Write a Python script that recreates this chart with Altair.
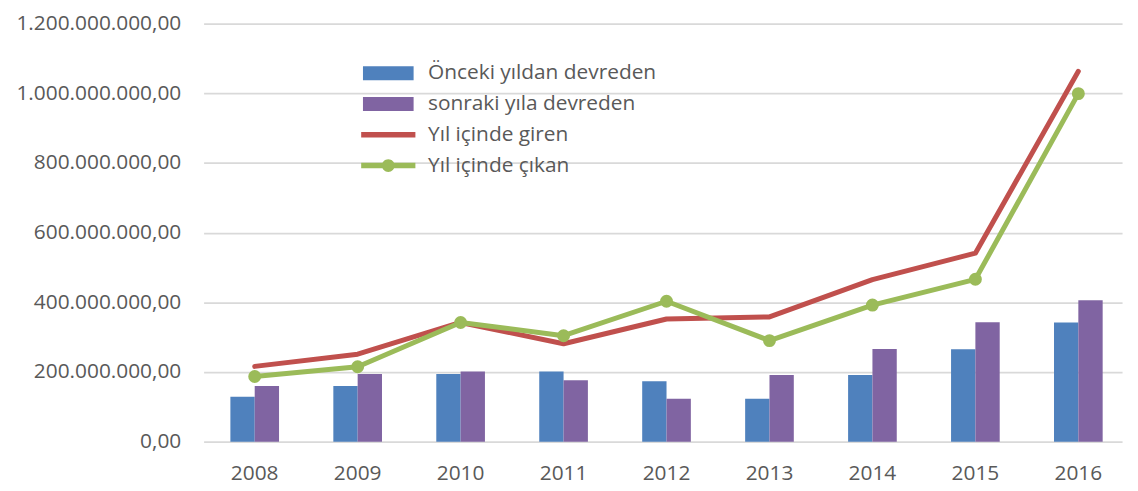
import altair as alt
import pandas as pd

years = ["2008", "2009", "2010", "2011", "2012", "2013", "2014", "2015", "2016"]
onceki = [129e6, 160e6, 194e6, 201e6, 173e6, 123e6, 191e6, 265e6, 342e6]
sonraki = [160e6, 194e6, 201e6, 176e6, 123e6, 191e6, 266e6, 343e6, 406e6]
giren = [216e6, 251e6, 342e6, 281e6, 352e6, 358e6, 465e6, 541e6, 1063e6]
cikan = [187e6, 215e6, 342e6, 304e6, 403e6, 290e6, 392e6, 466e6, 999e6]

series_names = ["Önceki yıldan devreden", "sonraki yıla devreden",
                "Yıl içinde giren", "Yıl içinde çıkan"]
colors = ["#4F81BD", "#8064A2", "#C0504D", "#9BBB59"]
y_ticks = [0, 2e8, 4e8, 6e8, 8e8, 1e9, 1.2e9]

# legend symbol shapes (unit coords scaled by sqrt(size)/2)
rect_path = "M-3.643,-1H3.643V1H-3.643Z"
line_path = "M-3.9,-0.4H3.9V0.4H-3.9Z"
circle_line_path = line_path + "M-0.93,0A0.93,0.93 0 1,1 0.93,0A0.93,0.93 0 1,1 -0.93,0Z"
shape_paths = [rect_path, rect_path, line_path, circle_line_path]

rows = []
for name, vals in zip(series_names, [onceki, sonraki, giren, cikan]):
    for yr, v in zip(years, vals):
        rows.append({"year": yr, "series": name, "value": v})
df = pd.DataFrame(rows)

FONT = "Open Sans"
TXT = "#595959"

x = alt.X("year:N", sort=years,
          scale=alt.Scale(paddingInner=0.5274, paddingOuter=0.2242, align=0.58),
          axis=alt.Axis(title=None, labelAngle=0, ticks=False, domain=False,
                        labelFont=FONT, labelFontSize=21, labelColor=TXT,
                        labelPadding=21, grid=False))
label_expr = ("replace(replace(replace(format(datum.value, ',.2f'), regexp(',', 'g'), '#'),"
              " regexp('[.]', 'g'), ','), regexp('#', 'g'), '.')")
y = alt.Y("value:Q",
          scale=alt.Scale(domain=[0, 1.2e9], nice=False, zero=True),
          axis=alt.Axis(title=None, values=y_ticks, labelExpr=label_expr,
                        grid=True, gridColor="#D9D9D9", gridWidth=1.6,
                        ticks=False, domain=False, labelFont=FONT,
                        labelFontSize=21, labelColor=TXT, labelPadding=23))

bars = alt.Chart(df).transform_filter(
    alt.FieldOneOfPredicate(field="series", oneOf=series_names[:2])
).mark_bar().encode(
    x=x, y=y,
    xOffset=alt.XOffset("series:N", sort=series_names[:2]),
    color=alt.Color("series:N", scale=alt.Scale(domain=series_names[:2], range=colors[:2]),
                    legend=None),
)

red_line = alt.Chart(df).transform_filter(
    alt.datum.series == series_names[2]
).mark_line(color=colors[2], strokeWidth=5, strokeCap="round", strokeJoin="round").encode(
    x=x, y=y
)

green_line = alt.Chart(df).transform_filter(
    alt.datum.series == series_names[3]
).mark_line(color=colors[3], strokeWidth=5, strokeCap="round", strokeJoin="round").encode(
    x=x, y=y
)

green_pts = alt.Chart(df).transform_filter(
    alt.datum.series == series_names[3]
).mark_point(filled=True, color=colors[3], size=170, opacity=1).encode(
    x=x, y=y
)

leg = alt.Legend(title=None, orient="none", legendX=175.5, legendY=39.5,
                 symbolSize=196, symbolStrokeWidth=0, symbolOpacity=1,
                 labelFont=FONT, labelFontSize=21, labelColor=TXT,
                 labelOffset=29.5, rowPadding=9, padding=0, labelLimit=400)

legend_layer = alt.Chart(df).transform_filter(
    alt.datum.series == "__none__"
).mark_point(filled=True, opacity=1).encode(
    x=x, y=y,
    fill=alt.Fill("series:N", scale=alt.Scale(domain=series_names, range=colors), legend=leg),
    shape=alt.Shape("series:N", scale=alt.Scale(domain=series_names, range=shape_paths), legend=leg),
)

chart = alt.layer(bars, red_line, green_line, green_pts, legend_layer).properties(
    width=925, height=421,
    padding={"left": 197, "top": 14, "right": 8, "bottom": 47},
    autosize=alt.AutoSizeParams(type="none"),
    background="white",
).configure_view(strokeWidth=0)

chart.save("out.html", embed_options={"renderer": "svg", "actions": False})
